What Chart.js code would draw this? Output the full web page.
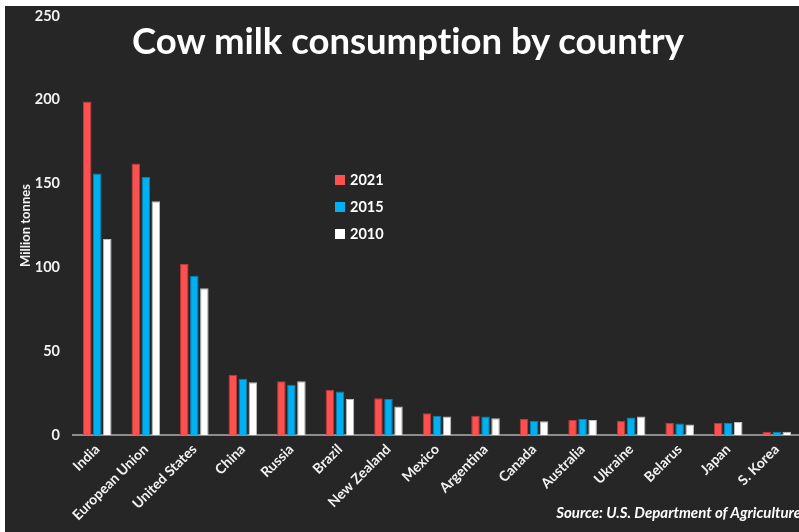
<!DOCTYPE html>
<html>
<head>
<meta charset="utf-8">
<script src="https://cdn.jsdelivr.net/npm/chart.js@4.4.0/dist/chart.umd.min.js"></script>
<style>
  html, body { margin: 0; padding: 0; background: #ffffff; overflow: hidden; width: 799px; height: 532px; }
  #panel { position: absolute; left: 5px; top: 6px; width: 800px; height: 526px; background: #262626; }
  #title { position: absolute; left: 0; top: 12px; width: 806px; text-align: center; color: #ffffff;
           font-family: Lato, sans-serif; font-weight: bold; font-size: 36.5px; font-variant-ligatures: none; }
  #source { position: absolute; right: 4px; top: 497px; color: #ffffff;
            font-family: Lato, sans-serif; font-weight: bold; font-style: italic; font-size: 15px; }
</style>
</head>
<body>
<div id="panel">
  <canvas id="myChart" width="800" height="526"></canvas>
  <div id="title">Cow milk consumption by country</div>
  <div id="source">Source: U.S. Department of Agriculture</div>
</div>
<script>
// data (million tonnes)
const countries = ["India", "European Union", "United States", "China", "Russia", "Brazil", "New Zealand",
  "Mexico", "Argentina", "Canada", "Australia", "Ukraine", "Belarus", "Japan", "S. Korea"];
const years = ["2021", "2015", "2010"];
const values2021 = [199, 162, 102, 36, 32, 27, 22, 13, 11.5, 9.5, 9, 8.5, 7.2, 7.2, 2];
const values2015 = [156, 154, 95, 33.5, 30, 26, 21.5, 11.5, 11, 8.5, 9.5, 10.5, 6.8, 7.2, 2];
const values2010 = [117, 139.5, 87.5, 31.5, 32, 21.5, 17, 11, 10, 8.2, 9, 11, 6.2, 7.8, 2];
const yTicks = [0, 50, 100, 150, 200, 250];

const colors = ["#ff5050", "#00b0f0", "#ffffff"];
const borders = ["#b83a3a", "#0c7fae", "#bfbfbf"];

// legend drawn inside the plot, like the original
const legendPlugin = {
  id: 'innerLegend',
  afterDraw(chart) {
    const ctx = chart.ctx;
    ctx.save();
    ctx.font = "bold 14.5px Lato, sans-serif";
    ctx.textBaseline = "middle";
    chart.data.datasets.forEach((ds, i) => {
      const y = 174 + i * 27;
      ctx.fillStyle = ds.backgroundColor;
      ctx.fillRect(330, y - 5, 10, 10);
      ctx.fillStyle = "#ffffff";
      ctx.fillText(ds.label, 345, y);
    });
    ctx.restore();
  }
};

const ctx = document.getElementById('myChart').getContext('2d');
const myChart = new Chart(ctx, {
  type: 'bar',
  data: {
    labels: countries,
    datasets: [values2021, values2015, values2010].map((vals, i) => ({
      label: years[i],
      data: vals,
      backgroundColor: colors[i],
      borderColor: borders[i],
      borderWidth: 1,
      barPercentage: 0.85,
      categoryPercentage: 0.62
    }))
  },
  options: {
    responsive: false,
    animation: false,
    layout: { padding: { top: 10, right: 4, left: 13, bottom: 0 } },
    plugins: {
      legend: { display: false },
      tooltip: { enabled: false }
    },
    scales: {
      x: {
        grid: { display: false, drawTicks: false },
        border: { color: "#8c8c8c", width: 2 },
        ticks: {
          color: "#f2f2f2",
          font: { family: "Lato, sans-serif", weight: "bold", size: 14 },
          minRotation: 45, maxRotation: 45, autoSkip: false, padding: 6
        },
        afterFit(scale) { scale.height = 97; }
      },
      y: {
        min: 0, max: 250,
        afterBuildTicks(scale) { scale.ticks = yTicks.map(v => ({ value: v })); },
        grid: { display: false, drawTicks: false },
        border: { display: false },
        ticks: {
          color: "#f2f2f2",
          font: { family: "Lato, sans-serif", weight: "bold", size: 14.5 },
          padding: 13
        },
        title: {
          display: true, text: "Million tonnes", color: "#f2f2f2",
          font: { family: "Lato, sans-serif", weight: "bold", size: 13 },
          padding: { top: 0, bottom: 8 }
        },
        afterFit(scale) {
          scale.width = 55;
          scale.paddingTop = 0;
          scale.paddingBottom = 0;
        }
      }
    }
  },
  plugins: [legendPlugin]
});
</script>
</body>
</html>
